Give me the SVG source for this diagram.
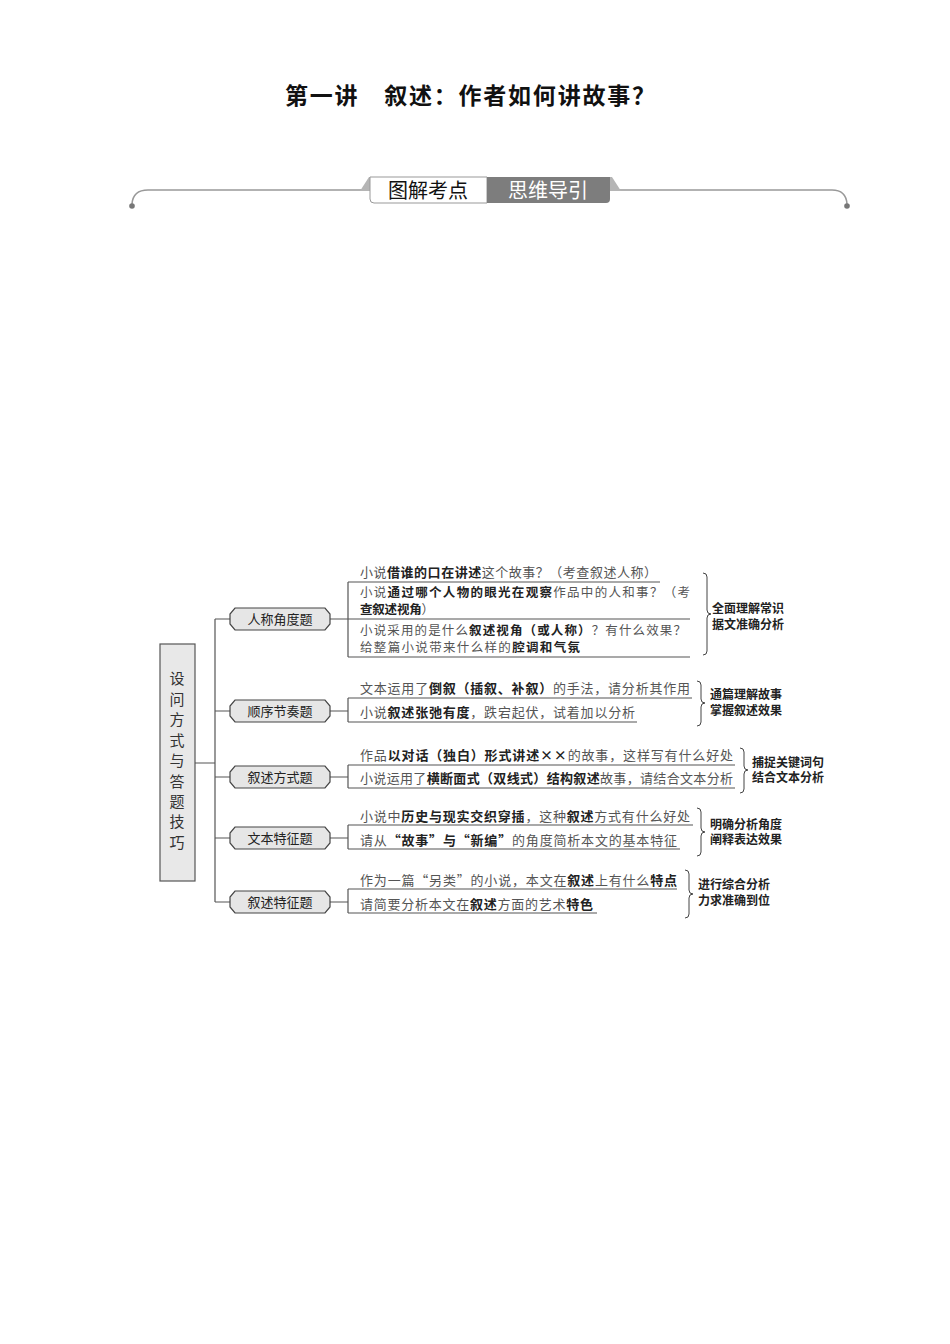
<svg xmlns="http://www.w3.org/2000/svg" width="950" height="1344" viewBox="0 0 950 1344">
<style>
.t{font-family:"Noto Sans CJK SC","Noto Sans",sans-serif;font-size:13px;fill:#555;}
.t2{font-family:"Noto Sans CJK SC","Noto Sans",sans-serif;font-size:12.5px;fill:#555;}
.b{font-weight:bold;fill:#222;}
.lbl{font-family:"Noto Sans CJK SC","Noto Sans",sans-serif;font-size:12px;fill:#222;font-weight:bold;}
.nt{font-family:"Noto Sans CJK SC","Noto Sans",sans-serif;font-size:13px;fill:#222;text-anchor:middle;}
.ln{stroke:#555;stroke-width:1.2;fill:none;}
.br{stroke:#444;stroke-width:1;fill:none;}
.nd{fill:#e6e6e6;stroke:#444;stroke-width:1.2;}
</style>
<defs>
<path id="nodeShape" d="M5,0 H95 L100,6 V16 L95,22 H5 L0,16 V6 Z"/>
</defs>
<rect width="950" height="1344" fill="#fff"/>
<g id="title">
<text x="470" y="104" text-anchor="middle" font-family="Noto Sans CJK SC, sans-serif" font-size="23" font-weight="bold" fill="#111" textLength="370" lengthAdjust="spacing">第一讲　叙述：作者如何讲故事？</text>
</g>
<g id="banner">
<path d="M148,190 H832 Q846,190 847,204" stroke="#999" stroke-width="1.5" fill="none"/>
<path d="M148,190 Q133,190 132,204" stroke="#999" stroke-width="1.5" fill="none"/>
<circle cx="132" cy="206" r="2.8" fill="#777"/>
<circle cx="847" cy="206" r="2.8" fill="#777"/>
<path d="M360,191 L369,177 H612 L621,191 Z" fill="#b5b5b5"/>
<path d="M370,177 H487 V203 H374 Q370,203 370,199 Z" fill="#fff" stroke="#999" stroke-width="1"/>
<path d="M487,177 H610 V199 Q610,203 606,203 H487 Z" fill="#7d7d7d"/>
<text x="428" y="198" text-anchor="middle" font-family="Noto Sans CJK SC, sans-serif" font-size="20" fill="#111">图解考点</text>
<text x="548" y="198" text-anchor="middle" font-family="Noto Sans CJK SC, sans-serif" font-size="20" fill="#fff">思维导引</text>
</g>
<g id="root">
<rect x="160" y="644" width="35" height="237" fill="#e8e8e8" stroke="#555" stroke-width="1.2"/>
<g font-family="Noto Sans CJK SC, sans-serif" font-size="15" fill="#333" text-anchor="middle">
<text x="177" y="684">设</text><text x="177" y="705">问</text><text x="177" y="725">方</text><text x="177" y="746">式</text><text x="177" y="766">与</text><text x="177" y="787">答</text><text x="177" y="807">题</text><text x="177" y="827">技</text><text x="177" y="848">巧</text>
</g>
</g>
<g id="connectors">
<path class="ln" d="M195,763 H215 M215,619 V902 M215,619 H230 M215,711 H230 M215,777 H230 M215,838 H230 M215,902 H230"/>
<path class="ln" d="M330,619 H690 M330,711 H348 M330,777 H348 M330,838 H348 M330,902 H348"/>
</g>
<g id="node1"><use href="#nodeShape" x="230" y="608" class="nd"/><text class="nt" x="280" y="624">人称角度题</text></g>
<g id="node2"><use href="#nodeShape" x="230" y="700" class="nd"/><text class="nt" x="280" y="716">顺序节奏题</text></g>
<g id="node3"><use href="#nodeShape" x="230" y="766" class="nd"/><text class="nt" x="280" y="782">叙述方式题</text></g>
<g id="node4"><use href="#nodeShape" x="230" y="827" class="nd"/><text class="nt" x="280" y="843">文本特征题</text></g>
<g id="node5"><use href="#nodeShape" x="230" y="891" class="nd"/><text class="nt" x="280" y="907">叙述特征题</text></g>

<g id="group1">
<path class="ln" d="M348,582 V657 M348,582 H660 M348,657 H690"/>
<text class="t" x="360" y="577" textLength="297" lengthAdjust="spacing">小说<tspan class="b">借谁的口在讲述</tspan>这个故事？（考查叙述人称）</text>
<text class="t2" x="360" y="597" textLength="330" lengthAdjust="spacing">小说<tspan class="b">通过哪个人物的眼光在观察</tspan>作品中的人和事？（考</text>
<text class="t2" x="360" y="614" textLength="74" lengthAdjust="spacing"><tspan class="b">查叙述视角</tspan>）</text>
<text class="t2" x="360" y="635" textLength="326" lengthAdjust="spacing">小说采用的是什么<tspan class="b">叙述视角（或人称）</tspan>？有什么效果？</text>
<text class="t2" x="360" y="652" textLength="220" lengthAdjust="spacing">给整篇小说带来什么样的<tspan class="b">腔调和气氛</tspan></text>
<path class="br" d="M703,573 Q707,573 707,577 V610 Q707,614 711,614 Q707,614 707,618 V651 Q707,655 703,655"/>
<text class="lbl" x="712" y="613">全面理解常识</text>
<text class="lbl" x="712" y="629">据文准确分析</text>
</g>
<g id="group2">
<path class="ln" d="M348,698 V722 M348,698 H692 M348,722 H637"/>
<text class="t" x="360" y="693" textLength="330" lengthAdjust="spacing">文本运用了<tspan class="b">倒叙（插叙、补叙）</tspan>的手法，请分析其作用</text>
<text class="t" x="360" y="717" textLength="275" lengthAdjust="spacing">小说<tspan class="b">叙述张弛有度</tspan>，跌宕起伏，试着加以分析</text>
<path class="br" d="M697,681 Q701,681 701,685 V699 Q701,703 705,703 Q701,703 701,707 V722 Q701,726 697,726"/>
<text class="lbl" x="710" y="699">通篇理解故事</text>
<text class="lbl" x="710" y="715">掌握叙述效果</text>
</g>
<g id="group3">
<path class="ln" d="M348,765 V788 M348,765 H735 M348,788 H735"/>
<text class="t" x="360" y="760" textLength="373" lengthAdjust="spacing">作品<tspan class="b">以对话（独白）形式讲述××</tspan>的故事，这样写有什么好处</text>
<text class="t" x="360" y="783" textLength="373" lengthAdjust="spacing">小说运用了<tspan class="b">横断面式（双线式）结构叙述</tspan>故事，请结合文本分析</text>
<path class="br" d="M740,748 Q744,748 744,752 V766 Q744,770 748,770 Q744,770 744,774 V789 Q744,793 740,793"/>
<text class="lbl" x="752" y="767">捕捉关键词句</text>
<text class="lbl" x="752" y="782">结合文本分析</text>
</g>
<g id="group4">
<path class="ln" d="M348,825 V849 M348,825 H693 M348,849 H680"/>
<text class="t" x="360" y="821" textLength="330" lengthAdjust="spacing">小说中<tspan class="b">历史与现实交织穿插</tspan>，这种<tspan class="b">叙述</tspan>方式有什么好处</text>
<text class="t" x="360" y="845" textLength="317" lengthAdjust="spacing">请从<tspan class="b">“故事”与“新编”</tspan>的角度简析本文的基本特征</text>
<path class="br" d="M697,808 Q701,808 701,812 V828 Q701,832 705,832 Q701,832 701,836 V852 Q701,856 697,856"/>
<text class="lbl" x="710" y="829">明确分析角度</text>
<text class="lbl" x="710" y="844">阐释表达效果</text>
</g>
<g id="group5">
<path class="ln" d="M348,889 V913 M348,889 H677 M348,913 H597"/>
<text class="t" x="360" y="885" textLength="317" lengthAdjust="spacing">作为一篇“另类”的小说，本文在<tspan class="b">叙述</tspan>上有什么<tspan class="b">特点</tspan></text>
<text class="t" x="360" y="909" textLength="233" lengthAdjust="spacing">请简要分析本文在<tspan class="b">叙述</tspan>方面的艺术<tspan class="b">特色</tspan></text>
<path class="br" d="M685,870 Q689,870 689,874 V890 Q689,894 693,894 Q689,894 689,898 V914 Q689,918 685,918"/>
<text class="lbl" x="698" y="889">进行综合分析</text>
<text class="lbl" x="698" y="905">力求准确到位</text>
</g>
</svg>
